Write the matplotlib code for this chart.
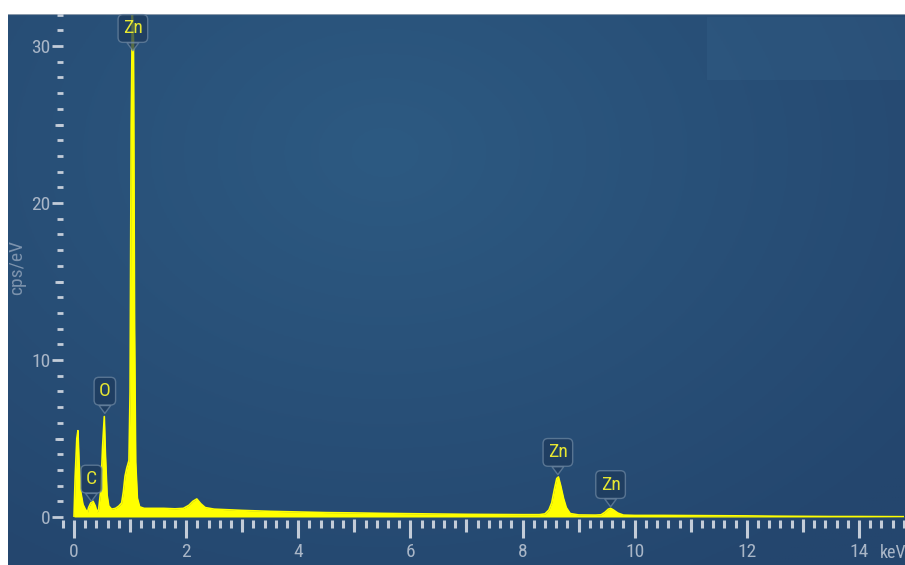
import numpy as np
import matplotlib
matplotlib.use('Agg')
import matplotlib.pyplot as plt
from matplotlib import font_manager
from matplotlib.ticker import MultipleLocator

# EDS spectrum (keV, cps/eV)
energy_kev = [0.00, 0.02, 0.05, 0.07, 0.09, 0.12, 0.16, 0.20, 0.24, 0.26,
              0.30, 0.34, 0.38, 0.41, 0.44, 0.48, 0.51, 0.54, 0.56, 0.59,
              0.62, 0.67, 0.74, 0.80, 0.85, 0.88, 0.91, 0.94, 0.98, 1.00,
              1.02, 1.04, 1.06, 1.08, 1.10, 1.13, 1.17, 1.25, 1.40, 1.60,
              1.80, 1.95, 2.05, 2.12, 2.19, 2.26, 2.34, 2.50, 3.00, 3.50,
              4.00, 4.50, 5.00, 5.50, 6.00, 6.50, 7.00, 7.50, 8.00, 8.30,
              8.40, 8.47, 8.52, 8.57, 8.61, 8.64, 8.68, 8.73, 8.78, 8.85,
              9.00, 9.30, 9.40, 9.47, 9.53, 9.57, 9.62, 9.70, 9.80, 10.0,
              10.5, 11.0, 11.5, 12.0, 12.5, 13.0, 13.5, 14.0, 14.8]
counts = [0.0, 2.5, 5.0, 5.5, 3.5, 1.6, 0.8, 0.5, 0.3, 0.6,
          0.9, 1.0, 0.7, 0.3, 0.5, 1.8, 4.5, 6.4, 4.0, 1.4,
          0.7, 0.5, 0.55, 0.7, 0.9, 1.6, 2.6, 3.1, 3.6, 8.0,
          25.0, 32.0, 30.5, 12.0, 3.5, 1.2, 0.65, 0.55, 0.55, 0.55,
          0.52, 0.55, 0.75, 1.0, 1.15, 0.85, 0.6, 0.5, 0.42, 0.36,
          0.32, 0.28, 0.26, 0.23, 0.21, 0.19, 0.17, 0.16, 0.15, 0.15,
          0.2, 0.45, 0.9, 1.8, 2.45, 2.55, 2.0, 1.2, 0.6, 0.22,
          0.13, 0.12, 0.14, 0.3, 0.5, 0.55, 0.45, 0.25, 0.12, 0.1,
          0.1, 0.09, 0.08, 0.07, 0.05, 0.04, 0.03, 0.03, 0.02]

# element markers: energy, height of the callout tip, label
peak_energy = [0.31, 0.55, 1.05, 8.63, 9.57]
peak_tip = [1.0, 6.6, 29.7, 2.7, 0.65]
peak_label = ['C', 'O', 'Zn', 'Zn', 'Zn']

x_ticks = [0, 2, 4, 6, 8, 10, 12, 14]
y_ticks = [0, 10, 20, 30]


def first_font(names):
    for n in names:
        try:
            font_manager.findfont(font_manager.FontProperties(family=n),
                                  fallback_to_default=False)
            return n
        except ValueError:
            pass
    return 'DejaVu Sans'


narrow = first_font(['Liberation Sans Narrow', 'Roboto Condensed',
                     'Open Sans Condensed', 'DejaVu Sans Condensed'])
plt.rcParams['font.family'] = [narrow, 'DejaVu Sans']
plt.rcParams['font.stretch'] = 'condensed'

W, H = 905, 565
fig = plt.figure(figsize=(W / 100, H / 100), dpi=100, facecolor='white')

# blue panel with a soft radial glow
bg = fig.add_axes([8 / W, 0, (W - 8) / W, (H - 14) / H])
gx, gy = np.meshgrid(np.linspace(0, 1, 300), np.linspace(0, 1, 200))
d = np.sqrt(((gx - 0.42) / 0.75) ** 2 + ((gy - 0.25) / 0.9) ** 2)
t = np.clip(d, 0, 1)[..., None]
c_in = np.array([45, 90, 130]) / 255
c_out = np.array([36, 70, 110]) / 255
bg.imshow(c_in * (1 - t) + c_out * t, aspect='auto', extent=(0, 1, 1, 0))
bg.add_patch(plt.Rectangle(((707 - 8) / (W - 8), 3 / 551), 1, 63 / 551,
                           color='#3a6890', alpha=0.25, lw=0))
bg.axhline(0.0, color='#8a9aab', lw=1.5)
bg.set_xlim(0, 1)
bg.set_ylim(1, 0)
bg.axis('off')

# spectrum axes: 0 keV at px 74, 14 keV at px 859; 0 at py 517, 30 at py 46
ax = fig.add_axes([62.8 / W, (H - 517) / H, 841 / W, 502.4 / H])
ax.patch.set_alpha(0)
ax.set_xlim(-0.2, 14.8)
ax.set_ylim(0, 32)

ax.fill_between(energy_kev, counts, 0, color='#ffff00', lw=0, zorder=2)
ax.plot(energy_kev, counts, color='#ffff00', lw=1.2, zorder=2)

box_fc = '#1d3a5c'
box_ec = '#6b85a0'
for e, tip, lab in zip(peak_energy, peak_tip, peak_label):
    ax.annotate(lab, xy=(e, tip), xytext=(0, 16), textcoords='offset points',
                ha='center', va='center', fontsize=14, color='#e6e632',
                zorder=3,
                bbox=dict(boxstyle='round,pad=0.25', fc=box_fc, ec=box_ec,
                          lw=1, alpha=0.75),
                arrowprops=dict(arrowstyle='wedge,tail_width=0.6',
                                fc=box_fc, ec=box_ec, lw=1, alpha=0.75,
                                shrinkA=0, shrinkB=0))

for s in ax.spines.values():
    s.set_visible(False)
ax.spines['bottom'].set_position(('outward', 2))

tick_c = '#c3ccd8'
lab_c = '#a9b6c7'
ax.set_xticks(x_ticks)
ax.set_yticks(y_ticks)
ax.xaxis.set_minor_locator(MultipleLocator(0.2))
ax.yaxis.set_minor_locator(MultipleLocator(1))
ax.tick_params(axis='x', which='major', length=13, width=2.2, color=tick_c,
               labelsize=14, labelcolor=lab_c, pad=4)
ax.tick_params(axis='x', which='minor', length=5.8, width=2.2, color=tick_c)
ax.tick_params(axis='y', which='major', length=8, width=2, color=tick_c,
               labelsize=14, labelcolor=lab_c, pad=1)
ax.tick_params(axis='y', which='minor', length=4.3, width=2, color=tick_c)

# medium ticks at odd keV and at 5, 15, 25 cps/eV
secx = ax.secondary_xaxis(-0.004)
secx.set_xticks([1, 3, 5, 7, 9, 11, 13])
secx.tick_params(length=9.4, width=2.2, color=tick_c, labelbottom=False)
secx.spines['bottom'].set_visible(False)
secy = ax.secondary_yaxis('left')
secy.set_yticks([5, 15, 25])
secy.tick_params(length=5.8, width=2, color=tick_c, labelleft=False)
secy.spines['left'].set_visible(False)

fig.text(17 / W, 1 - 268 / H, 'cps/eV', rotation=90, ha='center',
         va='center', fontsize=14, color='#7d93ad')
fig.text(880 / W, 1 - 553 / H, 'keV', ha='left', va='center',
         fontsize=13, color=lab_c)

fig.savefig('out.png', dpi=100, facecolor='white')
